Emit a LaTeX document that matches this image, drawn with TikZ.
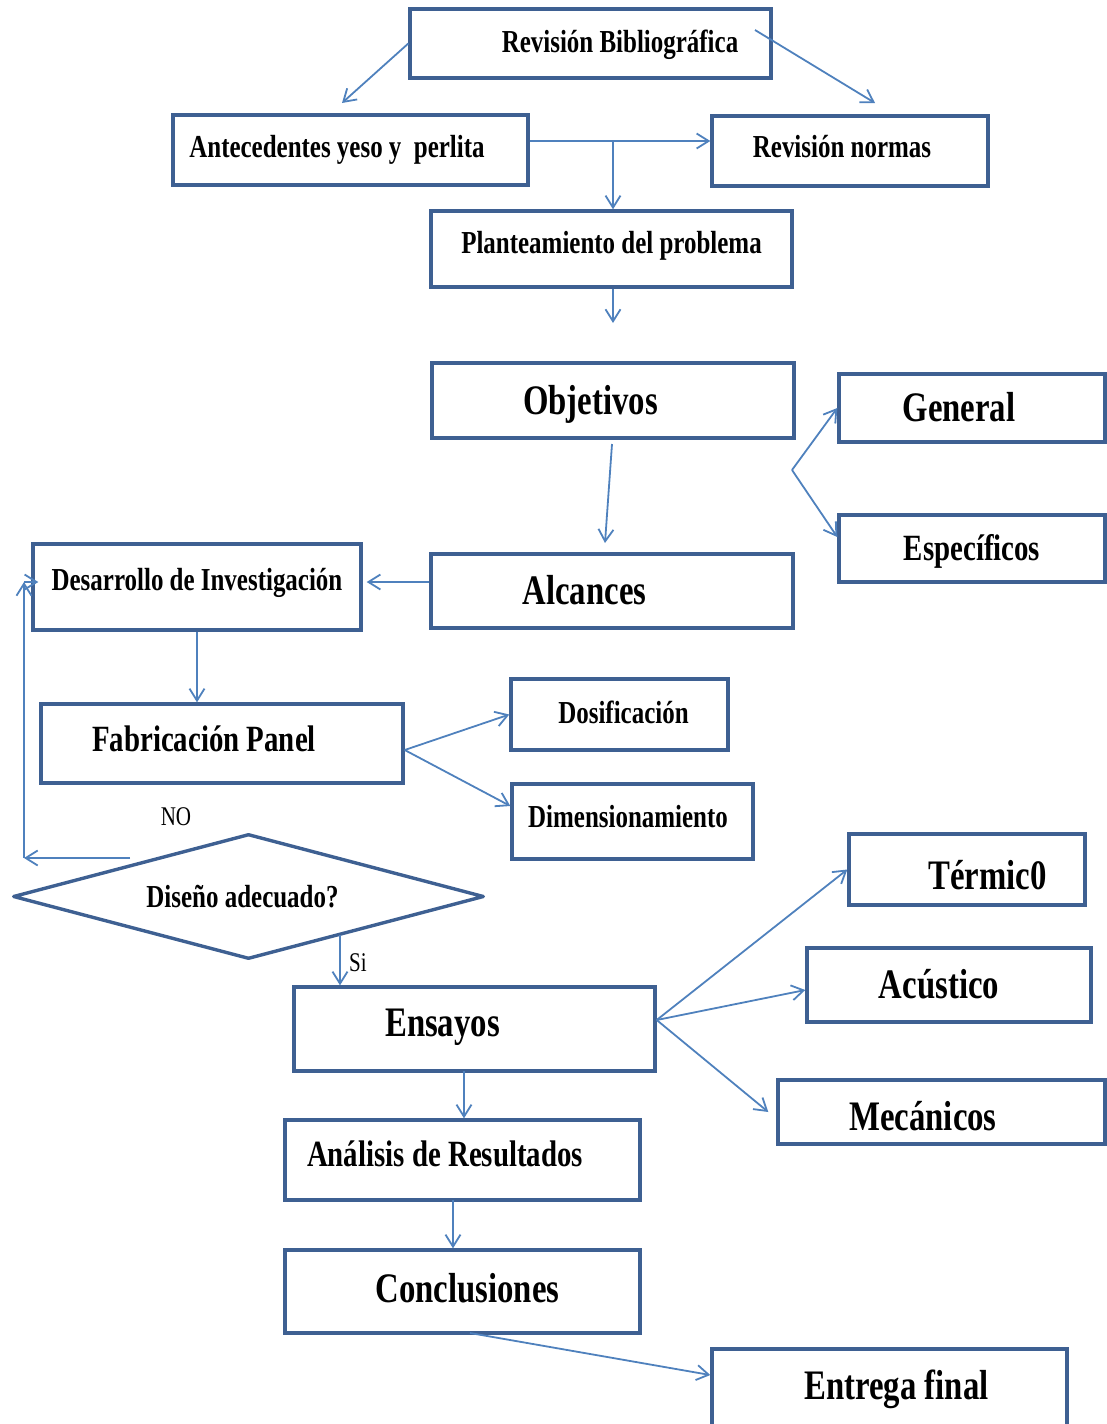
\documentclass[tikz,border=0pt]{standalone}
\usepackage{fontspec}
\newfontfamily\cf[FakeStretch=0.78]{Liberation Serif}
\usetikzlibrary{arrows.meta,shapes.geometric}
\definecolor{boxc}{RGB}{62,96,146}
\definecolor{linec}{RGB}{79,129,189}
\begin{document}
\begin{tikzpicture}[x=1pt,y=-1pt,
 box/.style={draw=boxc, line width=3.4pt, rectangle, inner sep=1pt, text=black, text depth=0pt},
 fs/.style={font=\cf\bfseries\fontsize{32}{36}\selectfont, text height=21pt},
 fm/.style={font=\cf\bfseries\fontsize{37}{42}\selectfont, text height=24.5pt},
 fl/.style={font=\cf\bfseries\fontsize{42}{48}\selectfont, text height=27.8pt},
 arr/.style={draw=linec, line width=1.8pt, -{Straight Barb[length=12pt,width=15pt]}},
 lab/.style={font=\cf\fontsize{27}{30}\selectfont, inner sep=0pt, text=black}
]
\path[use as bounding box] (0,0) rectangle (1107,1424);

% boxes
\node[box,fs,minimum width=361pt,minimum height=69pt,text depth=4pt] (rb) at (590.5,43.5) {\hspace*{59pt}Revisión Bibliográfica};
\node[box,fs,minimum width=355pt,minimum height=70pt,text depth=7pt] (ant) at (350.5,150) {Antecedentes yeso y~~perlita\hspace*{27pt}};
\node[box,fs,minimum width=276pt,minimum height=70pt,text depth=8pt] (rn) at (850,151) {Revisión normas\hspace*{16pt}};
\node[box,fs,minimum width=361pt,minimum height=76pt,text depth=13pt] (pp) at (611.5,249) {Planteamiento del problema};
\node[box,fl,minimum width=362pt,minimum height=75pt] (obj) at (613,400.5) {Objetivos\hspace*{45pt}};
\node[box,fl,minimum width=266pt,minimum height=68pt] (gen) at (972,408) {General\hspace*{26pt}};
\node[box,fm,minimum width=266pt,minimum height=67pt] (esp) at (972,548.5) {Específicos};
\node[box,fl,minimum width=362pt,minimum height=74pt] (alc) at (612,591) {Alcances\hspace*{55pt}};
\node[box,fs,minimum width=328pt,minimum height=86pt,text depth=15pt] (des) at (197,587) {Desarrollo de Investigación};
\node[box,fm,minimum width=362pt,minimum height=79pt,text depth=9pt] (fab) at (222,743.5) {Fabricación Panel\hspace*{36pt}};
\node[box,fs,minimum width=217pt,minimum height=71pt,text depth=4pt] (dos) at (619.5,714.5) {\hspace*{8pt}Dosificación};
\node[box,fs,minimum width=241pt,minimum height=75pt,text depth=9pt] (dim) at (632.5,821.5) {Dimensionamiento\hspace*{9pt}};
\node[draw=boxc,line width=3.4pt,line join=round,diamond,aspect=3.77,minimum width=471pt,minimum height=125pt,inner sep=0pt,fs,text depth=0pt,text=black] (dis) at (248.5,896.5) {Diseño adecuado?\hspace*{12pt}};
\node[box,fl,minimum width=361pt,minimum height=84pt,text depth=12pt] (ens) at (474.5,1029) {Ensayos\hspace*{64pt}};
\node[box,fl,minimum width=236pt,minimum height=71pt,text height=40.8pt] (ter) at (967,869.5) {\hspace*{41pt}Térmic0};
\node[box,fl,minimum width=284pt,minimum height=74pt] (acu) at (949,985) {Acústico\hspace*{20pt}};
\node[box,fl,minimum width=327pt,minimum height=64pt,text height=36.8pt] (mec) at (941.5,1112) {Mecánicos\hspace*{37pt}};
\node[box,fm,minimum width=355pt,minimum height=80pt,text depth=12pt] (ana) at (462.5,1160) {Análisis de Resultados\hspace*{35pt}};
\node[box,fl,minimum width=355pt,minimum height=83pt,text depth=6pt] (con) at (462.5,1291.5) {\hspace*{10pt}Conclusiones};
\node[box,fl,minimum width=355pt,minimum height=96pt,text depth=23pt] (ent) at (889.5,1397) {\hspace*{14pt}Entrega final};

% labels
\node[lab] (no) at (176,817) {NO};
\node[lab] (si) at (358,963) {Si};

% helper coordinates
\coordinate (c1) at (342,103);
\coordinate (c2s) at (755,30);
\coordinate (c2) at (875,103);
\coordinate (j1) at (613,141);
\coordinate (c3) at (613,323);
\coordinate (c4s) at (612,444);
\coordinate (c4) at (605,543);
\coordinate (v) at (792,470);
\coordinate (n1) at (130,858);
\coordinate (n2) at (24,858);
\coordinate (n3) at (24,582);
\coordinate (s1) at (340,935);
\coordinate (e1) at (464,1071);
\coordinate (a1) at (453,1200);
\coordinate (k1) at (470,1333);

% connectors
\draw[arr] (rb.west) -- (c1);
\draw[arr] (c2s) -- (c2);
\draw[arr] ([yshift=9pt]ant.east) -- ([yshift=10pt]rn.west);
\draw[arr] (j1) -- (j1 |- pp.north);
\draw[arr] (c3 |- pp.south) -- (c3);
\draw[arr] (c4s) -- (c4);
\draw[arr] (v) -- (gen.west);
\draw[arr] (v) -- ([yshift=11.5pt]esp.west);
\draw[arr] ([yshift=9pt]alc.west) -- ([xshift=4pt,yshift=5pt]des.east);
\draw[arr] (des.south) -- (des.south |- fab.north);
\draw[arr] ([yshift=-6.5pt]fab.east) -- (dos.west);
\draw[arr] ([yshift=-6.5pt]fab.east) -- ([yshift=15.5pt]dim.west);
\draw[arr] (n1) -- (n2);
\draw[arr] (n2) -- (n3);
\draw[arr] (n3) -- ([xshift=7pt,yshift=5pt]des.west);
\draw[arr] (s1) -- (s1 |- ens.north);
\draw[arr] ([yshift=9pt]ens.east) -- (ter.west);
\draw[arr] ([yshift=9pt]ens.east) -- ([yshift=-5pt]acu.west);
\draw[arr] ([yshift=9pt]ens.east) -- ([xshift=-8pt]mec.west);
\draw[arr] (e1) -- (e1 |- ana.north);
\draw[arr] (a1) -- (a1 |- con.north);
\draw[arr] (k1) -- ([yshift=22pt]ent.west);
\end{tikzpicture}
\end{document}
